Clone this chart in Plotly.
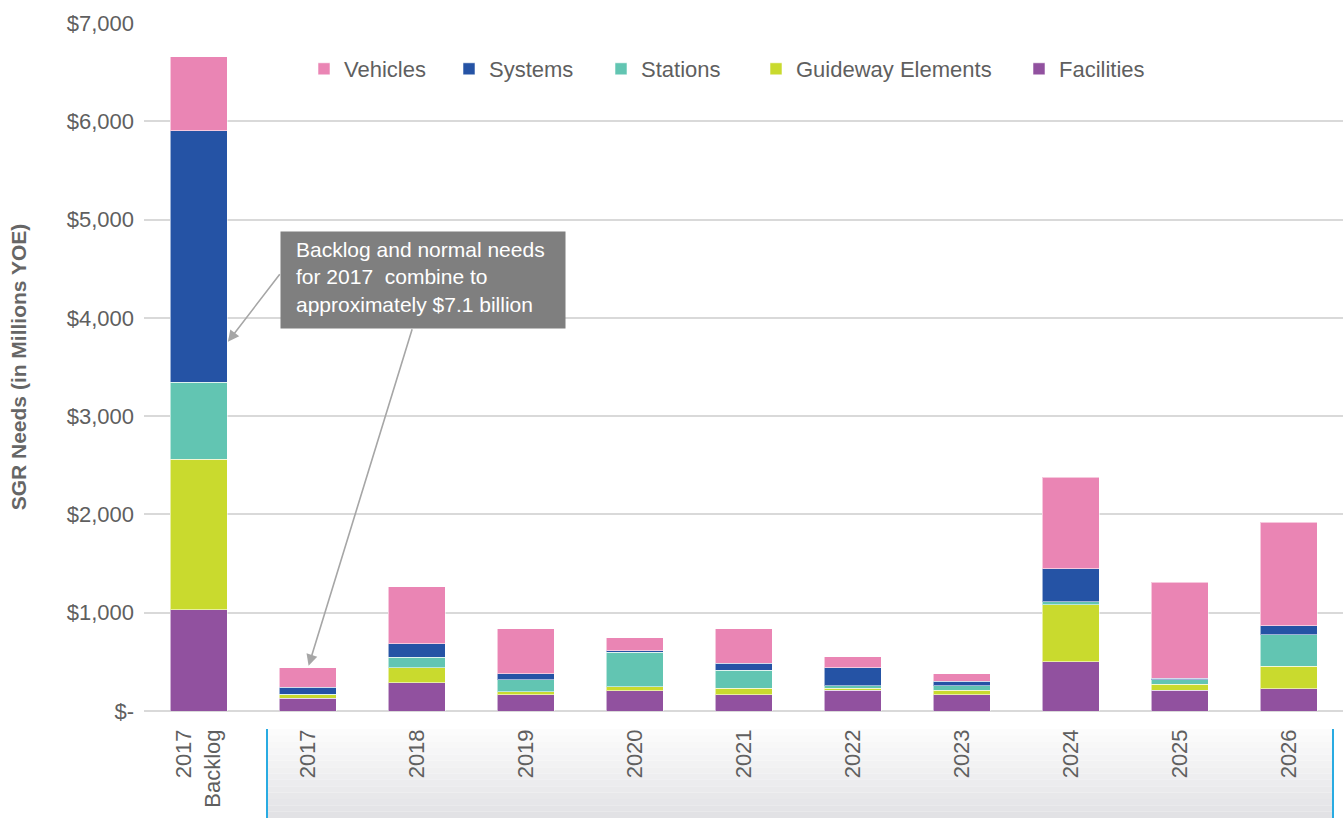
import plotly.graph_objects as go

categories = ["2017<br>Backlog", "2017", "2018", "2019", "2020", "2021",
              "2022", "2023", "2024", "2025", "2026"]
facilities = [1031, 132, 287, 165, 208, 165, 212, 165, 503, 210, 228]
guideway   = [1533, 34, 155, 33, 41, 64, 20, 47, 579, 64, 229]
stations   = [779, 5, 105, 122, 348, 186, 27, 47, 31, 45, 321]
systems    = [2561, 69, 136, 58, 14, 71, 180, 44, 335, 13, 89]
vehicles   = [753, 201, 582, 460, 136, 352, 112, 78, 931, 979, 1054]

y_tick_vals = [0, 1000, 2000, 3000, 4000, 5000, 6000, 7000]
y_tick_text = ["$-", "$1,000", "$2,000", "$3,000", "$4,000", "$5,000", "$6,000", "$7,000"]

series = [
    ("Facilities", facilities, "#91519F", "legend5"),
    ("Guideway Elements", guideway, "#C9DA2E", "legend4"),
    ("Stations", stations, "#62C5B2", "legend3"),
    ("Systems", systems, "#2553A5", "legend2"),
    ("Vehicles", vehicles, "#EA85B4", "legend"),
]

FONT = "Liberation Sans"
GREY = "#5f5f5f"

fig = go.Figure()
for name, vals, color, lg in series:
    fig.add_trace(go.Bar(
        x=categories, y=vals, name=name, legend=lg,
        marker=dict(color=color, line=dict(color="rgba(255,255,255,0.55)", width=1)),
    ))

W, H = 1343, 818
L, R, T, B = 144, 0, 23, 107
pw, ph = W - L - R, H - T - B

def px_x(p):
    return (p - L) / pw

def px_y(p):
    return (H - B - p) / ph

legend_font = dict(family=FONT, size=22, color=GREY)
legend_common = dict(orientation="h", yanchor="middle", y=px_y(69), xanchor="left",
                     bgcolor="rgba(0,0,0,0)", font=legend_font, itemclick=False)
text_x = {"legend": 343, "legend2": 488, "legend3": 640, "legend4": 795, "legend5": 1058}
legends = {k: dict(legend_common, x=px_x(v - 39)) for k, v in text_x.items()}

shapes = []
# gradient panel behind the year labels
top_px, bot_px, left_px, right_px = 729, 818, 267, 1333
nb = 14
for i in range(nb):
    t = i / (nb - 1)
    c = int(round(252 - t * (252 - 226)))
    c2 = int(round(252 - t * (252 - 229)))
    y0 = top_px + (bot_px - top_px) * i / nb
    y1 = top_px + (bot_px - top_px) * (i + 1) / nb
    shapes.append(dict(type="rect", xref="paper", yref="paper",
                       x0=px_x(left_px), x1=px_x(right_px), y0=px_y(y0), y1=px_y(y1),
                       fillcolor=f"rgb({c},{c},{c2})", line=dict(width=0), layer="below"))
for xp in (left_px, right_px):
    shapes.append(dict(type="line", xref="paper", yref="paper",
                       x0=px_x(xp), x1=px_x(xp), y0=px_y(top_px), y1=px_y(bot_px),
                       line=dict(color="#29ABE2", width=2), layer="below"))

annotations = [
    # grey callout box
    dict(xref="paper", yref="paper", x=px_x(423), y=px_y(280), xanchor="center", yanchor="middle",
         text=" ", showarrow=False, bgcolor="#7F7F7F", borderpad=0,
         width=284, height=96, font=dict(family=FONT, size=10, color="white")),
    # callout text
    dict(xref="paper", yref="paper", x=px_x(295), y=px_y(277), xanchor="left", yanchor="middle",
         text="Backlog and normal needs<br>for 2017  combine to<br>approximately $7.1 billion",
         showarrow=False, align="left", borderpad=0,
         font=dict(family=FONT, size=21, color="white")),
    dict(x=0.27, y=3757, xref="x", yref="y", text="", showarrow=True,
         ax=53, ay=-69, arrowhead=2, arrowsize=1.4, arrowwidth=1.6, arrowcolor="#A6A6A6", standoff=0),
    dict(x=1.01, y=461, xref="x", yref="y", text="", showarrow=True,
         ax=104, ay=-338, arrowhead=2, arrowsize=1.4, arrowwidth=1.6, arrowcolor="#A6A6A6", standoff=0),
]

fig.update_layout(
    width=W, height=H,
    margin=dict(l=L, r=R, t=T, b=B, autoexpand=False),
    paper_bgcolor="white", plot_bgcolor="white",
    barmode="stack", bargap=0.477,
    font=dict(family=FONT, color=GREY),
    shapes=shapes, annotations=annotations,
    showlegend=True,
    **legends,
)
fig.update_xaxes(
    type="category", tickangle=-90, showgrid=False, showline=False, zeroline=False,
    ticks="", ticklabelstandoff=13, automargin=False,
    tickfont=dict(family=FONT, size=22, color=GREY),
)
fig.update_yaxes(
    range=[0, 7000], tickvals=y_tick_vals, ticktext=y_tick_text,
    showgrid=True, gridcolor="#D9D9D9", gridwidth=2,
    zeroline=True, zerolinecolor="#D9D9D9", zerolinewidth=2,
    showline=False, ticks="", ticklabelstandoff=9, automargin=False,
    tickfont=dict(family=FONT, size=22, color=GREY),
    title=dict(text="SGR Needs (in Millions YOE)", standoff=34,
               font=dict(family=FONT, size=21, color="#666666", weight="bold")),
)

fig.write_html("out.html")
